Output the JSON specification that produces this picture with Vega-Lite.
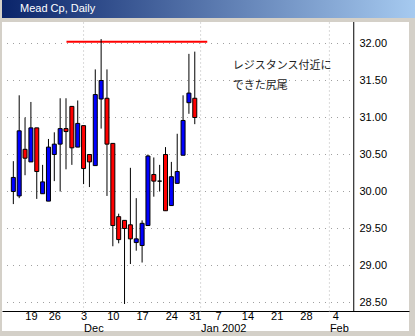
{
  "$schema": "https://vega.github.io/schema/vega-lite/v6.json",
  "background": "#d4d0c8",
  "padding": {"left": 2, "top": 0, "right": 0, "bottom": 6},
  "spacing": 3,
  "config": {"view": {"stroke": null}, "font": "Liberation Sans", "axis": {"labelOverlap": false, "labelBound": false, "labelFlush": false}},
  "datasets": {
    "candles": [
      {"date": "2001-11-14", "i": 0, "o": 30.00, "h": 30.41, "l": 29.83, "c": 30.19},
      {"date": "2001-11-15", "i": 1, "o": 29.94, "h": 31.30, "l": 29.91, "c": 30.82},
      {"date": "2001-11-16", "i": 2, "o": 30.57, "h": 31.00, "l": 30.22, "c": 30.45},
      {"date": "2001-11-19", "i": 3, "o": 30.40, "h": 31.21, "l": 30.40, "c": 30.86},
      {"date": "2001-11-20", "i": 4, "o": 30.86, "h": 30.86, "l": 29.90, "c": 30.27},
      {"date": "2001-11-21", "i": 5, "o": 29.97, "h": 30.36, "l": 29.97, "c": 30.13},
      {"date": "2001-11-23", "i": 6, "o": 29.87, "h": 30.71, "l": 29.87, "c": 30.60},
      {"date": "2001-11-26", "i": 7, "o": 30.50, "h": 30.80, "l": 30.14, "c": 30.64},
      {"date": "2001-11-27", "i": 8, "o": 30.64, "h": 31.26, "l": 30.00, "c": 30.85},
      {"date": "2001-11-28", "i": 9, "o": 30.85, "h": 31.26, "l": 30.30, "c": 30.81},
      {"date": "2001-11-29", "i": 10, "o": 31.15, "h": 31.15, "l": 30.36, "c": 30.59},
      {"date": "2001-11-30", "i": 11, "o": 30.60, "h": 31.23, "l": 30.60, "c": 30.92},
      {"date": "2001-12-03", "i": 12, "o": 30.89, "h": 30.89, "l": 30.10, "c": 30.31},
      {"date": "2001-12-04", "i": 13, "o": 30.50, "h": 30.50, "l": 30.06, "c": 30.40},
      {"date": "2001-12-05", "i": 14, "o": 30.35, "h": 31.65, "l": 30.35, "c": 31.31},
      {"date": "2001-12-06", "i": 15, "o": 31.25, "h": 32.06, "l": 30.85, "c": 31.50},
      {"date": "2001-12-07", "i": 16, "o": 31.26, "h": 31.65, "l": 29.94, "c": 30.64},
      {"date": "2001-12-10", "i": 17, "o": 30.65, "h": 30.65, "l": 29.26, "c": 29.54},
      {"date": "2001-12-11", "i": 18, "o": 29.66, "h": 29.70, "l": 29.30, "c": 29.35},
      {"date": "2001-12-12", "i": 19, "o": 29.61, "h": 29.61, "l": 28.48, "c": 29.50},
      {"date": "2001-12-13", "i": 20, "o": 29.55, "h": 30.32, "l": 29.02, "c": 29.36},
      {"date": "2001-12-14", "i": 21, "o": 29.31, "h": 29.91, "l": 29.20, "c": 29.36},
      {"date": "2001-12-17", "i": 22, "o": 29.27, "h": 29.61, "l": 29.04, "c": 29.57},
      {"date": "2001-12-18", "i": 23, "o": 29.54, "h": 30.50, "l": 29.54, "c": 30.48},
      {"date": "2001-12-19", "i": 24, "o": 30.23, "h": 30.46, "l": 29.93, "c": 30.14},
      {"date": "2001-12-20", "i": 25, "o": 30.14, "h": 30.36, "l": 30.00, "c": 30.14},
      {"date": "2001-12-21", "i": 26, "o": 30.50, "h": 30.60, "l": 29.74, "c": 29.74},
      {"date": "2001-12-24", "i": 27, "o": 29.81, "h": 30.40, "l": 29.81, "c": 30.20},
      {"date": "2001-12-26", "i": 28, "o": 30.11, "h": 30.78, "l": 30.11, "c": 30.27},
      {"date": "2001-12-27", "i": 29, "o": 30.49, "h": 31.30, "l": 30.49, "c": 30.96},
      {"date": "2001-12-28", "i": 30, "o": 31.20, "h": 31.86, "l": 31.05, "c": 31.33},
      {"date": "2001-12-31", "i": 31, "o": 31.26, "h": 31.89, "l": 30.91, "c": 31.00}
    ],
    "ygrid": [{"v": 28.5}, {"v": 29.0}, {"v": 29.5}, {"v": 30.0}, {"v": 30.5}, {"v": 31.0}, {"v": 31.5}, {"v": 32.0}],
    "months": [{"i": 12, "m": "Dec"}, {"i": 32, "m": "Jan 2002"}, {"i": 54, "m": "Feb"}],
    "resistance": [{"i0": 9.08, "i1": 33.13, "level": 32.025}],
    "notes": [
      {"i": 37.47, "v": 31.692, "t": "レジスタンス付近に"},
      {"i": 37.47, "v": 31.422, "t": "できた尻尾"}
    ],
    "frame": [{"title": "Mead Cp, Daily"}]
  },
  "vconcat": [
    {
      "width": 413,
      "height": 18,
      "view": {"stroke": null},
      "data": {"name": "frame"},
      "layer": [
        {
          "mark": {"type": "rect", "fill": {"gradient": "linear", "x1": 0, "y1": 0, "x2": 1, "y2": 0, "stops": [{"offset": 0, "color": "#0a246a"}, {"offset": 1, "color": "#a6caf0"}]}},
          "encoding": {
            "x": {"datum": 0, "type": "quantitative", "scale": {"domain": [0, 1], "nice": false, "zero": false}, "axis": null},
            "x2": {"datum": 1},
            "y": {"datum": 0, "type": "quantitative", "scale": {"domain": [0, 1], "nice": false, "zero": false}, "axis": null},
            "y2": {"datum": 1}
          }
        },
        {
          "mark": {"type": "text", "color": "white", "align": "left", "baseline": "middle", "fontSize": 11, "font": "Liberation Sans", "dx": 18},
          "encoding": {
            "text": {"field": "title"},
            "x": {"datum": 0, "type": "quantitative", "scale": {"domain": [0, 1], "nice": false, "zero": false}, "axis": null},
            "y": {"datum": 0.5, "type": "quantitative", "scale": {"domain": [0, 1], "nice": false, "zero": false}, "axis": null}
          }
        }
      ]
    },
    {
      "width": 407,
      "height": 309,
      "view": {"fill": "white", "stroke": null},
      "resolve": {"axis": {"x": "independent", "y": "independent"}},
      "layer": [
        {
          "data": {"name": "ygrid"},
          "mark": {"type": "rule", "color": "#a0a0a0", "strokeWidth": 1, "strokeDash": [1, 5]},
          "encoding": {
            "y": {"field": "v", "type": "quantitative", "scale": {"domain": [28.114865, 32.290541], "nice": false, "zero": false}, "axis": null},
            "x": {"datum": -1.083333, "type": "quantitative", "scale": {"domain": [-1.083333, 66.75], "nice": false, "zero": false}, "axis": null},
            "x2": {"datum": 58.166667}
          }
        },
        {
          "data": {"name": "months"},
          "mark": {"type": "rule", "color": "#b4b4b4", "strokeWidth": 1, "strokeDash": [1, 3]},
          "encoding": {
            "x": {
              "field": "i", "type": "quantitative",
              "scale": {"domain": [-1.083333, 66.75], "nice": false, "zero": false},
              "axis": {
                "orient": "bottom", "offset": -20, "title": null,
                "values": [12, 32, 54],
                "labelExpr": "datum.value == 12 ? 'Dec' : (datum.value == 32 ? 'Jan 2002' : 'Feb')",
                "ticks": false, "grid": false, "domain": false,
                "labelFont": "Liberation Sans", "labelFontSize": 11, "labelColor": "black",
                "labelAlign": "left", "labelPadding": 11,
                "labelOverlap": false, "labelBound": false, "labelFlush": false
              }
            },
            "y": {"datum": 28.3784, "type": "quantitative", "scale": {"domain": [28.114865, 32.290541], "nice": false, "zero": false}, "axis": null},
            "y2": {"datum": 32.290541}
          }
        },
        {
          "data": {"values": [{}]},
          "mark": {"type": "rule", "color": "black", "strokeWidth": 1},
          "encoding": {
            "x": {"datum": 58.166667, "type": "quantitative", "scale": {"domain": [-1.083333, 66.75], "nice": false, "zero": false}, "axis": null},
            "y": {"datum": 28.3784, "type": "quantitative", "scale": {"domain": [28.114865, 32.290541], "nice": false, "zero": false}, "axis": null},
            "y2": {"datum": 32.290541}
          }
        },
        {
          "data": {"name": "resistance"},
          "mark": {"type": "rule", "color": "#ff0000", "strokeWidth": 2},
          "encoding": {
            "x": {"field": "i0", "type": "quantitative", "scale": {"domain": [-1.083333, 66.75], "nice": false, "zero": false}, "axis": null},
            "x2": {"field": "i1"},
            "y": {"field": "level", "type": "quantitative", "scale": {"domain": [28.114865, 32.290541], "nice": false, "zero": false}, "axis": null}
          }
        },
        {
          "data": {"name": "candles"},
          "mark": {"type": "rule", "color": "black", "strokeWidth": 1},
          "encoding": {
            "x": {
              "field": "i", "type": "quantitative",
              "scale": {"domain": [-1.083333, 66.75], "nice": false, "zero": false},
              "axis": {
                "orient": "bottom", "offset": -20, "title": null,
                "values": [3, 7, 12, 17, 22, 27, 31, 35, 40, 45, 50, 55],
                "labelExpr": "['19','26','3','10','17','24','31','7','14','21','28','4'][indexof([3,7,12,17,22,27,31,35,40,45,50,55], datum.value)]",
                "ticks": false, "grid": false, "domain": true, "domainColor": "black", "domainWidth": 1,
                "labelFont": "Liberation Sans", "labelFontSize": 11, "labelColor": "black",
                "labelAlign": "center", "labelPadding": -1,
                "labelOverlap": false, "labelBound": false, "labelFlush": false
              }
            },
            "y": {
              "field": "l", "type": "quantitative",
              "scale": {"domain": [28.114865, 32.290541], "nice": false, "zero": false},
              "axis": {
                "orient": "right", "offset": -50, "title": null,
                "values": [28.5, 29, 29.5, 30, 30.5, 31, 31.5, 32],
                "format": ".2f", "ticks": false, "domain": false, "grid": false,
                "labelPadding": 0, "labelFont": "Liberation Sans", "labelFontSize": 11, "labelColor": "black",
                "labelBaseline": "middle", "labelOverlap": false, "labelBound": false, "labelFlush": false
              }
            },
            "y2": {"field": "h"}
          }
        },
        {
          "data": {"name": "candles"},
          "mark": {"type": "bar", "size": 4, "stroke": "black", "strokeWidth": 1},
          "encoding": {
            "x": {"field": "i", "type": "quantitative", "scale": {"domain": [-1.083333, 66.75], "nice": false, "zero": false}, "axis": null},
            "y": {"field": "o", "type": "quantitative", "scale": {"domain": [28.114865, 32.290541], "nice": false, "zero": false}, "axis": null},
            "y2": {"field": "c"},
            "color": {"condition": {"test": "datum.c > datum.o", "value": "#0000ff"}, "value": "#ff0000"}
          }
        },
        {
          "data": {"name": "notes"},
          "mark": {"type": "text", "align": "left", "baseline": "middle", "font": "Noto Sans CJK JP", "fontSize": 11, "color": "#222222"},
          "encoding": {
            "x": {"field": "i", "type": "quantitative", "scale": {"domain": [-1.083333, 66.75], "nice": false, "zero": false}, "axis": null},
            "y": {"field": "v", "type": "quantitative", "scale": {"domain": [28.114865, 32.290541], "nice": false, "zero": false}, "axis": null},
            "text": {"field": "t"}
          }
        }
      ]
    }
  ]
}
